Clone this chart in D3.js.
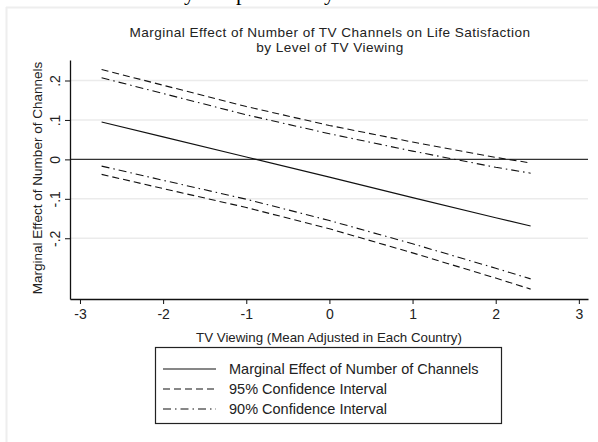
<!DOCTYPE html>
<html>
<head>
<meta charset="utf-8">
<script src="https://cdn.jsdelivr.net/npm/d3@7"></script>
<style>
  body { margin: 0; background: #fff; }
  text { font-family: "Liberation Sans", Arial, sans-serif; fill: #222; }
</style>
</head>
<body>
<div id="chartDiv"></div>
<script>
// values
const viewing = [-2.74, -2, -1, 0, 1, 2, 2.42];
const marginalEffect = [0.095, 0.057, 0.006, -0.045, -0.097, -0.148, -0.169];
const upper95 = [0.228, 0.188, 0.134, 0.086, 0.044, 0.005, -0.009];
const lower95 = [-0.038, -0.074, -0.122, -0.176, -0.237, -0.301, -0.329];
const upper90 = [0.207, 0.167, 0.113, 0.065, 0.021, -0.020, -0.035];
const lower90 = [-0.017, -0.053, -0.101, -0.155, -0.214, -0.276, -0.303];
const xTicks = [-3, -2, -1, 0, 1, 2, 3];
const yTicks = [-0.2, -0.1, 0, 0.1, 0.2];
const legendLabels = ["Marginal Effect of Number of Channels", "95% Confidence Interval", "90% Confidence Interval"];

const width = 598, height = 442;
const dashSolid = null, dash95 = "7,4", dash90 = "8,4,1.5,4";

const svg = d3.select("#chartDiv").append("svg")
    .attr("width", width)
    .attr("height", height)
    .style("display", "block");

svg.append("rect").attr("width", width).attr("height", height).attr("fill", "#fff");

// descenders of the page text above, cut by the crop
svg.append("g").selectAll("text")
    .data([["y", 184], ["p", 236], ["y", 324]])
    .enter().append("text")
    .attr("x", d => d[1]).attr("y", 0)
    .style("font-family", "'Liberation Serif', 'Times New Roman', serif")
    .style("font-size", "22px")
    .style("fill", "#000")
    .text(d => d[0]);

// faint outer frame of the graph
svg.append("line").attr("x1", 6).attr("x2", width).attr("y1", 7.5).attr("y2", 7.5)
    .attr("stroke", "#eeeeee").attr("stroke-width", 2);
svg.append("line").attr("x1", 6.5).attr("x2", 6.5).attr("y1", 7).attr("y2", height)
    .attr("stroke", "#eeeeee").attr("stroke-width", 2);

const x = d3.scaleLinear().domain([-3.12, 3.11]).range([70, 588]);
const y = d3.scaleLinear().domain([-0.354, 0.252]).range([299, 60]);

// gridlines
svg.append("g").selectAll("line")
    .data(yTicks.filter(d => d !== 0))
    .enter().append("line")
    .attr("x1", x(-3.12)).attr("x2", x(3.11))
    .attr("y1", d => y(d)).attr("y2", d => y(d))
    .attr("stroke", "#ebebeb").attr("stroke-width", 1.5);

// zero line
svg.append("line")
    .attr("x1", x(-3.12)).attr("x2", x(3.11))
    .attr("y1", y(0)).attr("y2", y(0))
    .attr("stroke", "#333").attr("stroke-width", 1.3);

const fmtY = d => d === 0 ? "0" : (d < 0 ? "-" : "") + String(Math.abs(+d.toFixed(2))).replace(/^0/, "");

const xAxis = svg.append("g")
    .attr("transform", "translate(0," + y(-0.354) + ")")
    .call(d3.axisBottom(x).tickValues(xTicks).tickSize(5).tickSizeOuter(0).tickFormat(d => String(d)));
xAxis.selectAll("text").style("font-size", "14px").attr("dy", "0.85em");

const yAxis = svg.append("g")
    .attr("transform", "translate(" + x(-3.12) + ",0)")
    .call(d3.axisLeft(y).tickValues(yTicks).tickSize(5).tickSizeOuter(0).tickFormat(fmtY));
yAxis.selectAll(".tick text")
    .style("font-size", "14px")
    .attr("x", null).attr("dy", null)
    .attr("text-anchor", "middle")
    .attr("transform", "translate(-15,0) rotate(-90)")
    .attr("dominant-baseline", "central");

[xAxis, yAxis].forEach(a => {
    a.select(".domain").attr("stroke", "#111").attr("stroke-width", 1.3);
    a.selectAll(".tick line").attr("stroke", "#111");
});

// axis titles
svg.append("text")
    .attr("x", 329).attr("y", 337)
    .attr("text-anchor", "middle").attr("dominant-baseline", "central")
    .style("font-size", "13.3px")
    .text("TV Viewing (Mean Adjusted in Each Country)");

svg.append("text")
    .attr("transform", "translate(37,178) rotate(-90)")
    .attr("text-anchor", "middle").attr("dominant-baseline", "central")
    .style("font-size", "13.5px")
    .text("Marginal Effect of Number of Channels");

// title
const titleLines = ["Marginal Effect of Number of TV Channels on Life Satisfaction", "by Level of TV Viewing"];
svg.append("g").selectAll("text")
    .data(titleLines)
    .enter().append("text")
    .attr("x", 330).attr("y", (d, i) => 32 + i * 15)
    .attr("text-anchor", "middle").attr("dominant-baseline", "central")
    .style("font-size", "13.6px")
    .style("letter-spacing", "0.45px")
    .text(d => d);

// lines
const line = d3.line().x(d => x(d[0])).y(d => y(d[1]));
const seriesList = [
    { values: upper95, dash: dash95 },
    { values: lower95, dash: dash95 },
    { values: upper90, dash: dash90 },
    { values: lower90, dash: dash90 },
    { values: marginalEffect, dash: dashSolid }
];
svg.append("g").selectAll("path")
    .data(seriesList)
    .enter().append("path")
    .attr("d", s => line(viewing.map((v, i) => [v, s.values[i]])))
    .attr("fill", "none")
    .attr("stroke", "#111")
    .attr("stroke-width", 1.1)
    .attr("stroke-dasharray", s => s.dash);

// legend
const legend = svg.append("g");
legend.append("rect")
    .attr("x", 155.5).attr("y", 347.5).attr("width", 346).attr("height", 76)
    .attr("fill", "#fff").attr("stroke", "#222").attr("stroke-width", 1.2);
const legendDash = [dashSolid, dash95, dash90];
legendLabels.forEach((lab, i) => {
    const ly = 369 + i * 20;
    legend.append("line")
        .attr("x1", 163).attr("x2", 216).attr("y1", ly).attr("y2", ly)
        .attr("stroke", "#111").attr("stroke-width", 1.1)
        .attr("stroke-dasharray", legendDash[i]);
    legend.append("text")
        .attr("x", 229).attr("y", ly)
        .attr("dominant-baseline", "central")
        .style("font-size", "14.5px")
        .text(lab);
});
</script>
</body>
</html>
